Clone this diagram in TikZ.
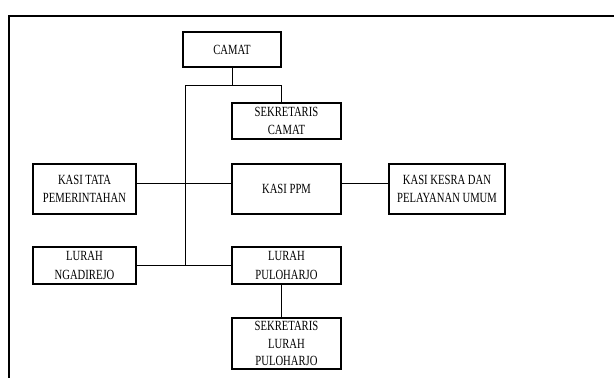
\documentclass[tikz,border=0pt]{standalone}
\usepackage{fontspec}
\setmainfont[FakeStretch=0.76]{Liberation Serif}
\tikzset{
  unit/.style={draw, line width=1.6pt, align=center, inner sep=0pt,
    font=\fontsize{14}{18.5}\selectfont},
  link/.style={line width=0.7pt}
}
\begin{document}
\begin{tikzpicture}[x=1pt, y=-1pt]
        \useasboundingbox (0,0) rectangle (614,378);
        % frame
        \draw[line width=1.8pt] (9,378) -- (9,16) -- (614,16);
        % boxes
        \node[unit, minimum width=98pt, minimum height=35pt] (camat) at (232,49.5) {CAMAT};
        \node[unit, minimum width=109pt, minimum height=36pt] (sekcam) at (286.5,121) {SEKRETARIS\\CAMAT};
        \node[unit, minimum width=103pt, minimum height=50pt] (tata) at (84.5,189) {KASI TATA\\PEMERINTAHAN};
        \node[unit, minimum width=109pt, minimum height=50pt] (ppm) at (286.5,189) {KASI PPM};
        \node[unit, minimum width=116pt, minimum height=50pt] (kesra) at (447,189) {KASI KESRA DAN\\PELAYANAN UMUM};
        \node[unit, minimum width=103pt, minimum height=37pt] (ngadi) at (84.5,265.5) {LURAH\\NGADIREJO};
        \node[unit, minimum width=109pt, minimum height=37pt] (pulo) at (286.5,265.5) {LURAH\\PULOHARJO};
        \node[unit, minimum width=109pt, minimum height=51pt, font=\fontsize{14}{17.5}\selectfont] (seklur) at (286.5,343.5) {SEKRETARIS\\LURAH\\PULOHARJO};
        % lines
        \coordinate (ltop) at (185,85);
        \coordinate (rtop) at (281,85);
        \coordinate (lbot) at (185,266);
        \draw[link] (camat.south) -- (camat |- ltop);
        \draw[link] (ltop) -- (rtop) -- (rtop |- sekcam.north);
        \draw[link] (ltop) -- (lbot);
        \draw[link] ([yshift=6pt]tata.east) -- ([yshift=6pt]ppm.west);
        \draw[link] ([yshift=6pt]ppm.east) -- ([yshift=6pt]kesra.west);
        \draw[link] (ngadi) -- (pulo);
        \draw[link] (pulo.south -| rtop) -- (seklur.north -| rtop);
      \end{tikzpicture}
\end{document}
